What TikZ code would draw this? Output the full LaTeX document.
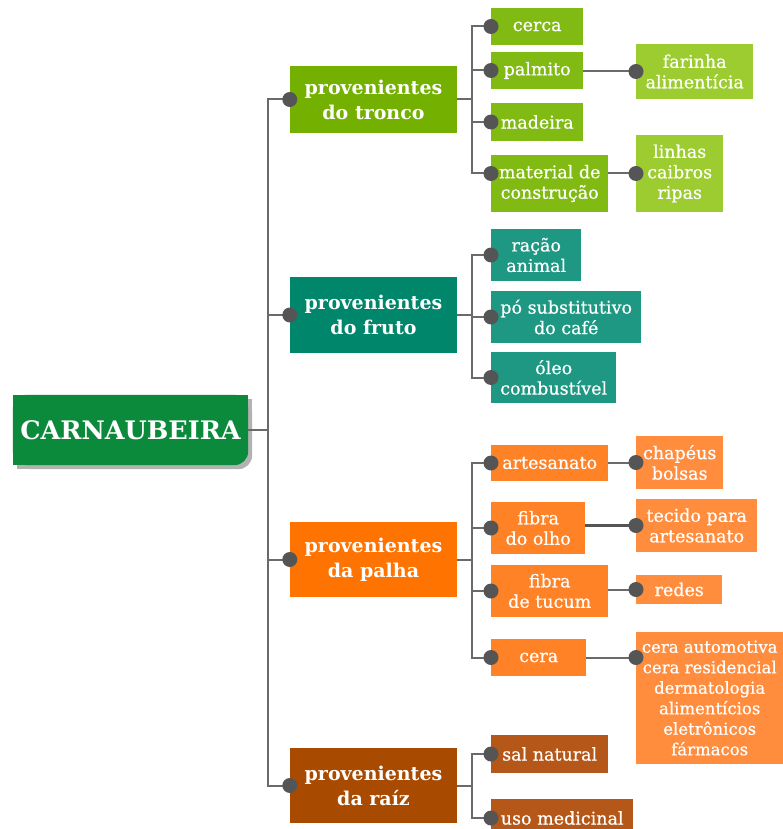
\documentclass[tikz,border=0pt]{standalone}
\usepackage{fontspec}
\setmainfont{DejaVu Serif}
\newfontfamily\heavyfont{DejaVu Serif}[FakeBold=0.6]
\usepackage{tikz}
\usetikzlibrary{positioning, calc, backgrounds}
\definecolor{rootgreen}{HTML}{0B8A3B}
\definecolor{troncoA}{HTML}{74B000}
\definecolor{troncoB}{HTML}{80BA12}
\definecolor{troncoC}{HTML}{9CCC30}
\definecolor{frutoA}{HTML}{00866A}
\definecolor{frutoB}{HTML}{1E9882}
\definecolor{palhaA}{HTML}{FF7300}
\definecolor{palhaB}{HTML}{FF8226}
\definecolor{palhaC}{HTML}{FF8D3D}
\definecolor{raizA}{HTML}{A84B00}
\definecolor{raizB}{HTML}{B55718}
\definecolor{linkgray}{HTML}{6A6A6A}
\definecolor{dotgray}{HTML}{555555}
\tikzset{
box/.style={rectangle, text=white, align=center, inner sep=0pt}, % every coloured box
rootbox/.style={box, minimum width=235pt, minimum height=70pt, font=\bfseries\fontsize{25.5}{30}\selectfont}, % the root
part/.style={box, minimum width=167pt, minimum height=75pt, font=\bfseries\fontsize{19}{25}\selectfont}, % first level
use/.style={box, anchor=west, font=\heavyfont\fontsize{17.5}{20.5}\selectfont}, % second and third level
link/.style={draw=linkgray, line width=2pt}, % the connectors
}
\newcommand{\hub}[1]{\fill[dotgray] (#1) circle (7.5pt);}

\begin{document}
\begin{tikzpicture}[x=1pt, y=-1pt]
  \useasboundingbox (0,0) rectangle (783,829);
  \clip (0,0) rectangle (783,829);
  % root
  \node[rootbox] (root) at (130.5,430) {CARNAUBEIRA};
  \begin{scope}[on background layer]
    \foreach \s/\c in {4pt/black!30, 0pt/rootgreen} {
      \fill[\c, rounded corners=14pt] ([shift={(\s,-\s)}]root.north west) rectangle ([shift={(\s,-\s)}]root.south east);
      \fill[\c] ([shift={(\s,-\s)}]root.north west) rectangle ([shift={(\s-14pt,-\s)}]root.south east);
      \fill[\c] ([shift={(\s,-\s)}]root.north west) rectangle ([shift={(\s,14pt-\s)}]root.south east);
    }
  \end{scope}
  % first level
  \node[part, fill=troncoA, minimum height=67pt] (tronco) at (373.5,99.5) {provenientes\\do tronco};
  \node[part, fill=frutoA, minimum height=76pt] (fruto) at (373.5,315) {provenientes\\do fruto};
  \node[part, fill=palhaA] (palha) at (373.5,559.5) {provenientes\\da palha};
  \node[part, fill=raizA] (raiz) at (373.5,785.5) {provenientes\\da raíz};
  % tronco
  \node[use, fill=troncoB, minimum width=92pt, minimum height=37pt] (cerca) at (491,26.5) {cerca};
  \node[use, fill=troncoB, minimum width=92pt, minimum height=37pt] (palmito) at (491,70.5) {palmito};
  \node[use, fill=troncoB, minimum width=92pt, minimum height=38pt] (madeira) at (491,122) {madeira};
  \node[use, fill=troncoB, minimum width=117pt, minimum height=57pt] (material) at (491,183.5) {material de\\construção};
  \node[use, fill=troncoC, minimum width=117pt, minimum height=55pt] (farinha) at (636,71.5) {farinha\\alimentícia};
  \node[use, fill=troncoC, minimum width=87pt, minimum height=77pt] (linhas) at (636,173.5) {linhas\\caibros\\ripas};
  % fruto
  \node[use, fill=frutoB, minimum width=90pt, minimum height=52pt] (racao) at (491,255) {ração\\animal};
  \node[use, fill=frutoB, minimum width=150pt, minimum height=52pt] (po) at (491,317) {pó substitutivo\\do café};
  \node[use, fill=frutoB, minimum width=125pt, minimum height=51pt] (oleo) at (491,377.5) {óleo\\combustível};
  % palha
  \node[use, fill=palhaB, minimum width=117pt, minimum height=36pt] (artesanato) at (491,463) {artesanato};
  \node[use, fill=palhaB, minimum width=94pt, minimum height=52pt] (olho) at (491,528) {fibra\\do olho};
  \node[use, fill=palhaB, minimum width=117pt, minimum height=52pt] (tucum) at (491,591) {fibra\\de tucum};
  \node[use, fill=palhaB, minimum width=95pt, minimum height=37pt] (cera) at (491,657.5) {cera};
  \node[use, fill=palhaC, minimum width=87pt, minimum height=53pt] (chapeus) at (636,462.5) {chapéus\\bolsas};
  \node[use, fill=palhaC, minimum width=121pt, minimum height=53pt] (tecido) at (636,525.5) {tecido para\\artesanato};
  \node[use, fill=palhaC, minimum width=86pt, minimum height=29pt] (redes) at (636,589.5) {redes};
  \node[use, fill=palhaC, minimum width=147pt, minimum height=132pt, font=\heavyfont\fontsize{16.5}{20.5}\selectfont] (ceras) at (636,698) {cera automotiva\\cera residencial\\dermatologia\\alimentícios\\eletrônicos\\fármacos};
  % raiz
  \node[use, fill=raizB, minimum width=117pt, minimum height=38pt] (sal) at (491,754) {sal natural};
  \node[use, fill=raizB, minimum width=142pt, minimum height=38pt] (medicinal) at (491,818) {uso medicinal};
  % connectors
  \coordinate (trunk) at (268,430);
  \draw[link] (root.east) -- (trunk);
  \foreach \m in {tronco, fruto, palha, raiz} {
    \draw[link] (trunk) |- (\m.west);
    \hub{\m.west}
    \coordinate (\m-b) at ([xshift=15pt]\m.east);
    \draw[link] (\m.east) -- (\m-b);
  }
  \foreach \m/\u in {tronco/cerca, tronco/palmito, tronco/madeira, fruto/racao, fruto/po, fruto/oleo,
                     palha/artesanato, palha/olho, palha/tucum, palha/cera, raiz/sal, raiz/medicinal} {
    \draw[link] (\m-b) |- (\u.west);
    \hub{\u.west}
  }
  \draw[link] (tronco-b) |- ([yshift=10pt]material.west);
  \hub{[yshift=10pt]material.west}
  % third level
  \draw[link] (farinha.west) -- (farinha.west -| palmito.east);
  \draw[link] (linhas.west) -- (linhas.west -| material.east);
  \draw[link] (chapeus.west) -- (chapeus.west -| artesanato.east);
  \draw[link, draw=dotgray, line width=3pt] (tecido.west) -- (tecido.west -| olho.east);
  \draw[link] (redes.west) -- (redes.west -| tucum.east);
  \draw[link] (cera.east) -- (cera.east -| ceras.west);
  \foreach \t in {farinha, linhas, chapeus, tecido, redes} {
    \hub{\t.west}
  }
  \hub{cera.east -| ceras.west}
\end{tikzpicture}
\end{document}
